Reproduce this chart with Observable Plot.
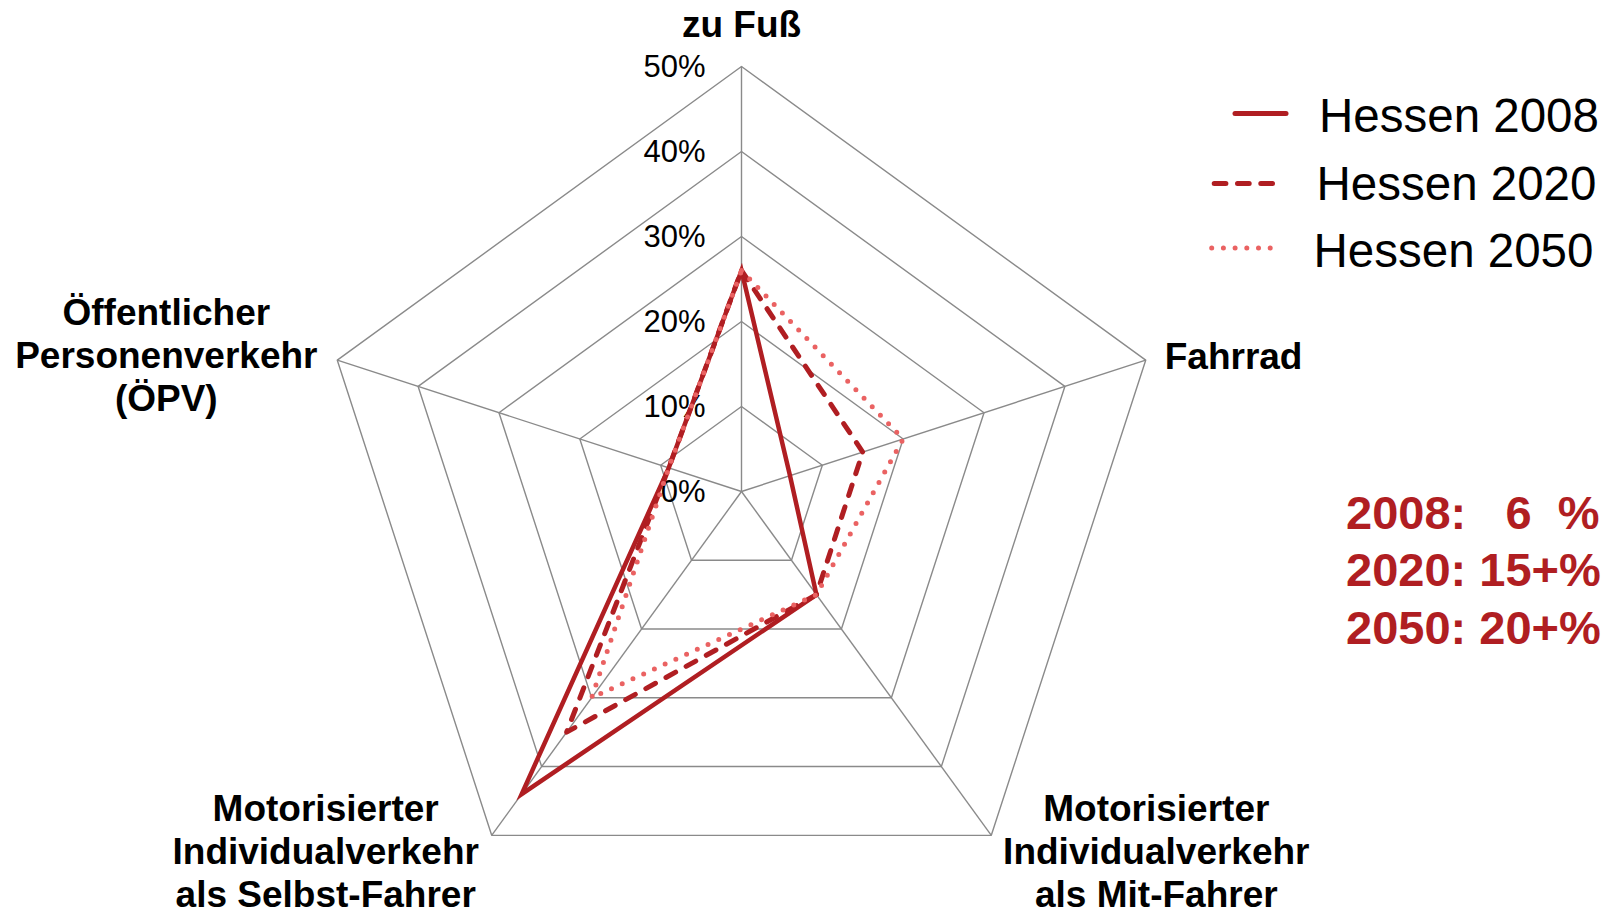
<!DOCTYPE html>
<html><head><meta charset="utf-8">
<script src="https://cdn.jsdelivr.net/npm/d3@7"></script>
<script src="https://cdn.jsdelivr.net/npm/@observablehq/plot@0.6"></script>
<style>
html,body{margin:0;padding:0;background:#fff;}
#wrap{position:relative;width:1616px;height:914px;overflow:hidden;font-family:"Liberation Sans",Arial,sans-serif;}
#wrap svg{display:block;}
#overlay{position:absolute;left:0;top:0;pointer-events:none;}
</style></head><body><div id="wrap"></div>
<script>
// ---- data ----
const categories = [
  "zu Fuß",
  "Fahrrad",
  "Motorisierter\nIndividualverkehr\nals Mit-Fahrer",
  "Motorisierter\nIndividualverkehr\nals Selbst-Fahrer",
  "Öffentlicher\nPersonenverkehr\n(ÖPV)"
];
const seriesNames = ["Hessen 2008", "Hessen 2020", "Hessen 2050"];
const values2008 = [26, 6, 15, 44, 9];
const values2020 = [26, 15, 15, 35, 9];
const values2050 = [26, 20, 15, 30, 9];
const ringLevels = [10, 20, 30, 40, 50];
const tickLevels = [0, 10, 20, 30, 40, 50];
const tickLabels = ["0%", "10%", "20%", "30%", "40%", "50%"];
const annotationLines = ["2008:   6  %", "2020: 15+%", "2050: 20+%"];

// ---- layout ----
const W = 1616, H = 914, CX = 741, CY = 491, K = 8.5; // px per percent
const DARK = "#b01e22", LIGHT = "#ea6262", GRID = "#8a8a8a";
const n = categories.length;
const ang = i => i * 2 * Math.PI / n;
const px = (r, i) => r * Math.sin(ang(i));
const py = (r, i) => r * Math.cos(ang(i));

const ringData = ringLevels.flatMap(l => categories.map((c, i) => ({level: l, x: px(l, i), y: py(l, i)})));
const spokeData = categories.map((c, i) => ({x2: px(50, i), y2: py(50, i)}));
const toPts = vals => vals.map((v, i) => ({x: px(v, i), y: py(v, i)}));

const labelOpts = [
  {dx: 0, dy: -43, textAnchor: "middle"},
  {dx: 19, dy: -5, textAnchor: "start"},
  {dx: 165, dy: 15, textAnchor: "middle"},
  {dx: -166, dy: 15, textAnchor: "middle"},
  {dx: -171, dy: -6, textAnchor: "middle"}
];

const chart = Plot.plot({
  width: W, height: H,
  margin: 0,
  style: {fontFamily: '"Liberation Sans", Arial, sans-serif', background: "white", color: "black"},
  x: {domain: [-CX / K, (W - CX) / K], axis: null},
  y: {domain: [-(H - CY) / K, CY / K], axis: null},
  marks: [
    Plot.line(ringData, {x: "x", y: "y", z: "level", curve: "linear-closed", stroke: GRID, strokeWidth: 1.4}),
    Plot.link(spokeData, {x1: 0, y1: 0, x2: "x2", y2: "y2", stroke: GRID, strokeWidth: 1.4}),
    Plot.text(tickLevels, {x: 0, y: d => d, text: (d, i) => tickLabels[i], textAnchor: "end", dx: -36, dy: 1, fontSize: 31, fill: "black"}),
    ...categories.map((c, i) => Plot.text([c], {
      x: px(50, i), y: py(50, i), text: d => d,
      dx: labelOpts[i].dx, dy: labelOpts[i].dy, textAnchor: labelOpts[i].textAnchor,
      lineAnchor: "middle", lineHeight: 43 / 37, fontSize: 37, fontWeight: "bold", fill: "black"
    })),
    Plot.line(toPts(values2008), {x: "x", y: "y", curve: "linear-closed", stroke: DARK, strokeWidth: 4.5, strokeLinejoin: "miter", strokeMiterlimit: 10}),
    Plot.line(toPts(values2020), {x: "x", y: "y", curve: "linear-closed", stroke: DARK, strokeWidth: 5, strokeDasharray: "11 12", strokeLinecap: "round", strokeLinejoin: "round"}),
    Plot.line(toPts(values2050), {x: "x", y: "y", curve: "linear-closed", stroke: LIGHT, strokeWidth: 5, strokeDasharray: "0 11.8", strokeLinecap: "round", strokeLinejoin: "round"})
  ]
});
document.getElementById("wrap").appendChild(chart);

// ---- legend & annotation overlay ----
const ov = d3.select("#wrap").append("svg").attr("id", "overlay").attr("width", W).attr("height", H)
  .style("font-family", '"Liberation Sans", Arial, sans-serif');
const legendStyles = [
  {x1: 1235, x2: 1286, y: 113.5, color: DARK, dash: null, tx: 1319},
  {x1: 1214.2, x2: 1272.5, y: 183.5, color: DARK, dash: "11.7 11.6", tx: 1316.5},
  {x1: 1211.7, x2: 1270.9, y: 248, color: LIGHT, dash: "0 11.7", tx: 1313.5}
];
const legendBaselines = [131.5, 200, 266.5];
seriesNames.forEach((s, i) => {
  const st = legendStyles[i];
  const l = ov.append("line").attr("x1", st.x1).attr("x2", st.x2).attr("y1", st.y).attr("y2", st.y)
    .attr("stroke", st.color).attr("stroke-width", 5).attr("stroke-linecap", "round");
  if (st.dash) l.attr("stroke-dasharray", st.dash);
  ov.append("text").attr("x", st.tx).attr("y", legendBaselines[i]).attr("font-size", 47.5).attr("fill", "black").text(s);
});
const annBaselines = [528.5, 586, 643.5];
annotationLines.forEach((t, i) => {
  ov.append("text").attr("x", 1346).attr("y", annBaselines[i]).attr("font-size", 47).attr("font-weight", "bold")
    .attr("fill", DARK).style("white-space", "pre").attr("xml:space", "preserve").text(t);
});
</script>
</body></html>
